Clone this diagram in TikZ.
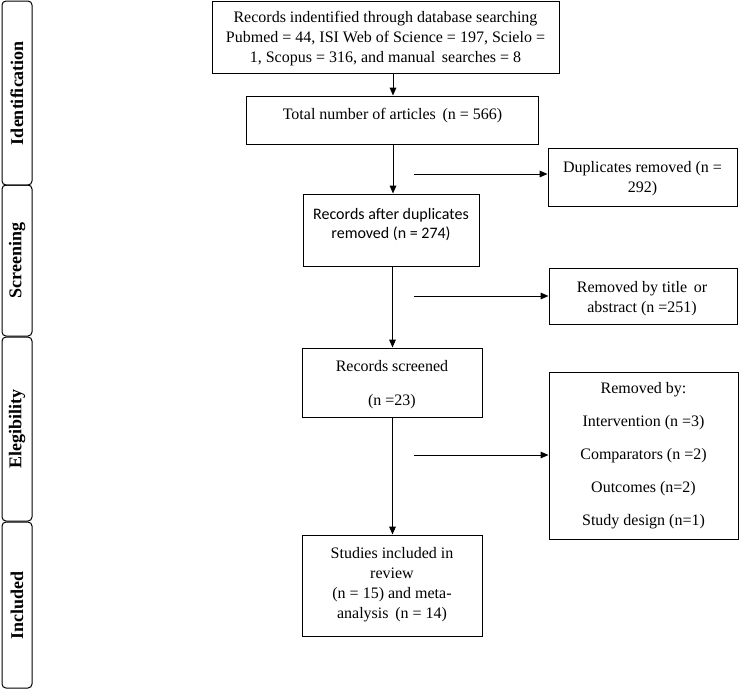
\documentclass[tikz,border=0pt]{standalone}
\usepackage{fontspec}
\setmainfont{Liberation Serif}
\newfontfamily\calib{Carlito}
\usetikzlibrary{arrows.meta}
\begin{document}
\begin{tikzpicture}[x=0.75pt,y=-0.75pt,
  box/.style={draw, line width=0.75pt, rectangle, inner sep=0pt},
  bar/.style={draw, line width=0.75pt, rectangle, rounded corners=3pt, inner sep=0pt, minimum width=22.5pt},
  barlabel/.style={rotate=90, inner sep=0pt, font=\fontsize{13.5}{16}\selectfont\bfseries},
  txt/.style={align=center, inner sep=0pt, font=\fontsize{12}{15}\selectfont},
  stxt/.style={align=center, inner sep=0pt, font=\fontsize{12}{14.5}\selectfont\calib},
  arr/.style={line width=0.75pt, -{Triangle[length=6pt,width=5pt]}}]
\fill[white] (0,0) rectangle (740,690);
\useasboundingbox (0,0) rectangle (740,690);
% side bars
\node[bar, minimum height=138pt] (sid) at (17,93) {};
\node[bar, minimum height=113.25pt] (ssc) at (17,260.5) {};
\node[bar, minimum height=138pt] (sel) at (17,429) {};
\node[bar, minimum height=124.5pt] (sin) at (17,605) {};
\node[barlabel] (lid) at (sid.center) {Identification};
\node[barlabel] (lsc) at (ssc.center) {Screening};
\node[barlabel] (lel) at (sel.center) {Elegibility};
\node[barlabel] (lin) at (sin.center) {Included};
% main boxes
\node[box, minimum width=260.25pt, minimum height=54pt] (b1) at (385.5,37) {};
\node[txt] (t1) at (385.5,39) {Records indentified through database searching\\Pubmed = 44, ISI Web of Science = 197, Scielo =\\1, Scopus = 316, and manual\, searches = 8};
\node[box, minimum width=219pt, minimum height=36pt] (b2) at (392,120) {};
\node[txt] (t2) at (392.5,116) {Total number of articles\, (n = 566)};
\node[box, minimum width=132pt, minimum height=54pt] (b3) at (391,230) {};
\node[stxt] (t3) at (391,224.5) {Records after duplicates\\removed (n = 274)};
\node[box, minimum width=135pt, minimum height=51.75pt] (b4) at (392,382.5) {};
\node[txt] (t4) at (392,385) {Records screened\\[10.5pt](n =23)};
\node[box, minimum width=135pt, minimum height=75.75pt] (b5) at (392,585.5) {};
\node[txt] (t5) at (392,585) {Studies included in\\review\\(n = 15) and meta-\\analysis\, (n = 14)};
% side boxes
\node[box, minimum width=141.75pt, minimum height=43.5pt] (dup) at (642.5,177) {};
\node[txt] (tdup) at (642.5,179) {Duplicates removed (n =\\292)};
\node[box, minimum width=141pt, minimum height=42pt] (tit) at (643,296) {};
\node[txt] (ttit) at (642,299) {Removed by title\, or\\abstract (n =251)};
\node[box, minimum width=141.75pt, minimum height=125.25pt] (rem) at (643.5,455.5) {};
\node[txt] (trem) at (643.5,455.5) {Removed by:\\[9.75pt]Intervention (n =3)\\[9.75pt]Comparators (n =2)\\[9.75pt]Outcomes (n=2)\\[9.75pt]Study design (n=1)};
% vertical arrows
\coordinate (c1) at (393,0);
\coordinate (c2) at (392.5,0);
\draw[arr] (b1.south -| c1) -- (b2.north -| c1);
\draw[arr] (b2.south -| c1) -- (b3.north -| c1);
\draw[arr] (b3.south -| c2) -- (b4.north -| c2);
\draw[arr] (b4.south -| c2) -- (b5.north -| c2);
% horizontal arrows
\coordinate (h1) at (414,174);
\coordinate (h2) at (414,296);
\coordinate (h3) at (414,455);
\draw[arr] (h1) -- (h1 -| dup.west);
\draw[arr] (h2) -- (h2 -| tit.west);
\draw[arr] (h3) -- (h3 -| rem.west);
\end{tikzpicture}
\end{document}
